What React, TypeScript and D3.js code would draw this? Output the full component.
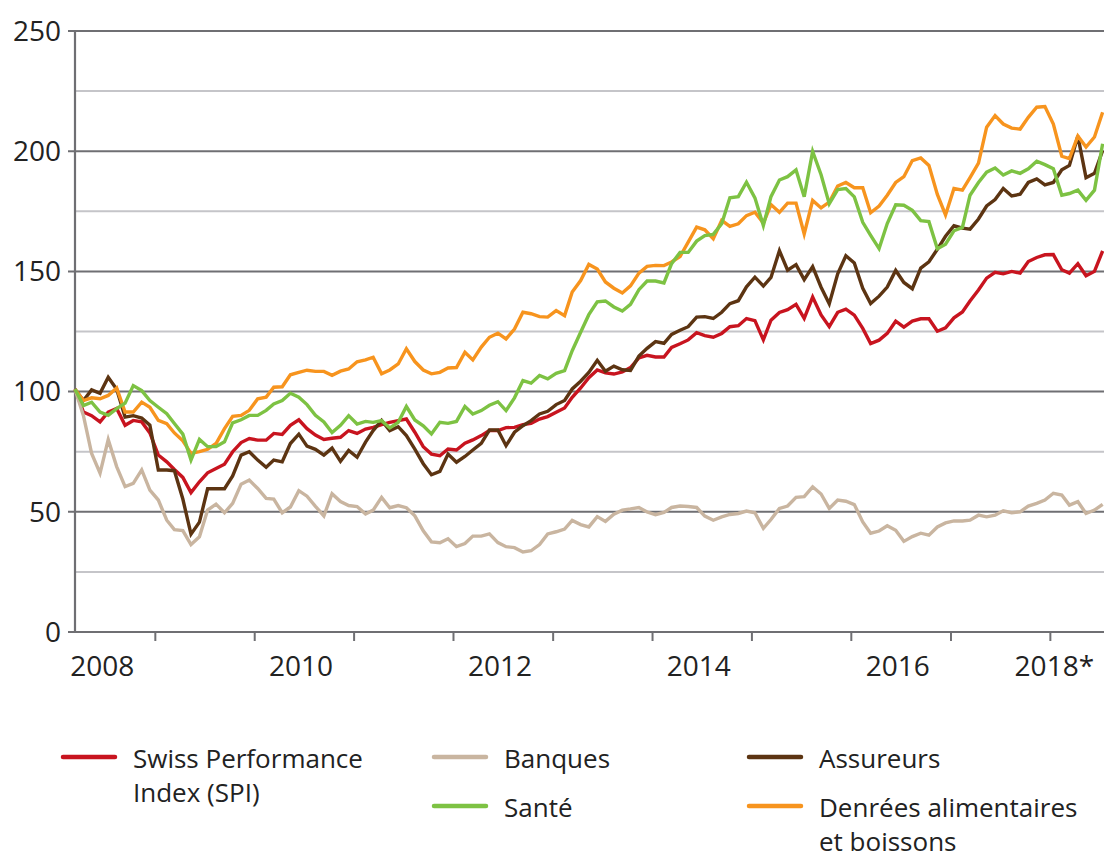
import React from "react";
import * as d3 from "d3";

const spi = [101,91.5,90,87.4,91.5,93,86,88,87.4,82.8,73.6,70.8,67.6,64.3,58,62.5,66.2,68,69.8,75,78.8,80.5,79.8,79.8,82.6,82.2,86,88.3,84.6,81.9,80.1,80.6,81,83.8,82.6,84.4,85.1,86.3,87.2,87.9,88.6,83.1,77.1,74,73.3,76.1,75.7,78.5,79.9,81.7,83.8,83.8,85,85.1,86.3,86.8,88.6,89.6,91.4,93.2,97.6,101.5,105.8,109,107.8,107.3,108.2,110,114,115.1,114.4,114.4,118.4,119.9,121.5,124.5,123.3,122.6,124.2,127,127.4,130.4,129.5,121.5,129.7,132.9,134.1,136.3,130.5,139.3,131.9,127,133,134.3,131.8,126.3,120,121.4,124.2,129.3,126.8,129.3,130.3,130.3,125.1,126.5,130.7,133.1,137.7,142.3,147.2,149.6,149,150,149.3,154.1,155.8,156.9,157,150.7,149.3,153.2,148.2,150,158.5];

const banques = [101,90,74.3,66.1,80,68.8,60.5,61.8,67.4,59,54.9,46.5,42.6,42.2,36.4,39.6,50.7,53.2,49.6,53.5,61.5,63.2,59.7,55.6,55.3,49.6,52,58.8,56.5,52.3,48.3,57.5,54.3,52.6,52.2,49.1,50.7,56,51.7,52.6,51.7,48.3,42.1,37.5,37.1,38.8,35.5,36.8,39.9,39.9,40.8,37.2,35.5,35.1,33.3,33.8,36.4,40.8,41.7,42.8,46.4,44.7,43.7,48,46,49,50.7,51.2,51.8,49.9,48.8,49.7,51.8,52.4,52.2,51.8,48.2,46.5,47.9,48.9,49.3,50.3,49.6,43.1,46.8,51.4,52.4,56,56.3,60.4,57.4,51.4,54.9,54.4,53,45.8,41.1,42,44.2,42.3,37.7,39.7,41.1,40.3,43.7,45.4,46.2,46.2,46.5,48.6,47.9,48.6,50.4,49.6,50,52.4,53.5,54.9,57.7,57,52.8,54.2,49.3,50.7,53.1];

const assureurs = [101,96.3,100.7,99.3,106,101,89.4,90,89,86,67.4,67.4,67.1,55.3,40.7,45.7,59.6,59.6,59.6,64.9,73.6,75,71.5,68.5,71.5,70.8,78.4,82.3,77.3,76,73.6,76.5,71,75.5,72.7,79,83.8,88,83.8,85.4,81.7,76.1,70,65.4,66.8,74,70.6,73,75.7,78.5,84,84,77.5,83.1,85.8,87.9,90.7,91.8,94.6,96.3,101.1,104.3,108,113,108.5,110.6,109.1,108.8,114.8,118,120.8,120.1,123.8,125.5,127,131,131.2,130.4,133,136.6,137.8,143.6,147.6,143.9,147.5,158.6,150.5,152.8,146.6,152,143.4,136.5,149,156.5,153.5,143,136.6,139.7,143.5,150.4,145.4,142.8,151.4,154,159.2,164.6,169,168,167.6,171.8,177.2,179.9,184.5,181.4,182.1,187,188.5,186,187,192.3,194.1,206.3,189,190.8,200.3];

const sante = [101,94.2,95.6,91.5,90.1,92.9,95.2,102.5,100.4,96.3,93.5,90.8,86.7,82.3,71.5,80.1,77.1,77.1,79.1,87,88.3,90.1,90.1,92.2,94.9,96.3,99.3,97.7,94.6,90.1,87.4,83,86,90,86.5,87.6,87.2,87.9,84.9,87.2,93.8,88.2,85.8,82.4,87.2,86.8,87.6,93.8,90.7,92.1,94.3,95.8,92.1,97.4,104.6,103.5,106.7,105.3,107.6,108.7,117,124.7,132,137.3,137.7,135.2,133.5,136.3,142.4,146,146,145.2,153.2,157.9,157.9,162.6,164.9,165.4,169.8,180.6,181.1,187.1,180.6,169.1,181.1,188,189.4,192.2,181.1,199.9,190.2,178.1,184,184.5,181,170.4,165,159.5,169.9,177.7,177.5,175.4,171.1,170.7,159.4,161.3,166.9,168.3,181.7,187,191.3,193,190.1,191.8,190.8,192.7,195.8,194.4,192.7,181.7,182.4,183.8,179.6,183.8,203.1];

const denrees = [101,96.3,97.4,97,98.4,101.5,91.5,91.5,95.6,93.5,88,86.7,82.8,79.5,74.3,75,76,78.4,84.6,89.7,90.1,92.2,97,97.7,101.8,102,107,108,108.9,108.4,108.4,106.8,108.5,109.4,112.4,113.2,114.3,107.4,109,111.5,117.8,112.5,109,107.4,108,109.8,110,116.4,113.2,118.5,122.6,124.3,121.9,126,133,132.4,131.2,131,133.7,131.6,141.4,146.2,152.9,151,145.6,143,141,144,149.3,152.1,152.5,152.4,153.9,156.2,162.2,168.4,167.3,163.6,171.2,168.7,169.8,173.2,174.6,170.1,177.8,174.6,178.4,178.4,165.6,179.5,176.4,178.8,185.5,187,184.8,184.8,174.4,177.2,181.7,187,189.4,196.1,197.2,194.1,182,173.5,184.5,183.8,189,195,210,214.8,211.3,209.6,209.2,214.1,218.3,218.6,211.3,197.9,196.9,206.3,201.7,205.9,216.2];

const yTicks = [0, 50, 100, 150, 200, 250];
const gridValues = [25, 50, 75, 100, 125, 150, 175, 200, 225, 250];
const yearTicks = [2009, 2010, 2011, 2012, 2013, 2014, 2015, 2016, 2017, 2018];
const yearLabels = ["2008", "2010", "2012", "2014", "2016"];
const lastLabel = "2018*";

const months = spi.map((_, i) => new Date(2008, 2 + i, 12));

const series = [
  { key: "spi", values: spi, color: "#c8141f" },
  { key: "banques", values: banques, color: "#c9b5a0" },
  { key: "assureurs", values: assureurs, color: "#5c3412" },
  { key: "denrees", values: denrees, color: "#f7941e" },
  { key: "sante", values: sante, color: "#7dc243" },
];

const legend = [
  { lines: ["Swiss Performance", "Index (SPI)"], color: "#c8141f", col: 0, row: 0 },
  { lines: ["Banques"], color: "#c9b5a0", col: 1, row: 0 },
  { lines: ["Assureurs"], color: "#5c3412", col: 2, row: 0 },
  { lines: ["Santé"], color: "#7dc243", col: 1, row: 1 },
  { lines: ["Denrées alimentaires", "et boissons"], color: "#f7941e", col: 2, row: 1 },
];

export default function App() {
  const W = 1104, H = 859;
  const left = 75, right = 1104, top = 31, bottom = 632;
  const x = d3.scaleTime().domain([new Date(2008, 2, 12), new Date(2018, 6, 17)]).range([left, right]);
  const y = d3.scaleLinear().domain([0, 250]).range([bottom, top]);
  const line = d3.line<number>().x((_, i) => x(months[i])).y((d) => y(d));
  const font = "'Open Sans', sans-serif";
  const axisColor = "#6f6f73";
  const lightGrid = "#c5c5c9";

  const legendCols = [63, 434, 749];
  const legendRows = [757, 806];

  return (
    <svg width={W} height={H} style={{ position: "absolute", left: 0, top: 0, background: "#fff" }} fontFamily={font}>
      {gridValues.map((v) => {
        const dark = v % 50 === 0;
        return (
          <line key={v} x1={dark ? 68 : left} x2={right} y1={y(v)} y2={y(v)}
            stroke={dark ? axisColor : lightGrid} strokeWidth={2} />
        );
      })}
      <line x1={68} x2={right} y1={y(0)} y2={y(0)} stroke={axisColor} strokeWidth={2.2} />
      <line x1={left} x2={left} y1={y(250)} y2={y(0)} stroke={axisColor} strokeWidth={2.2} />
      {yearTicks.map((yr) => (
        <line key={yr} x1={x(new Date(yr, 0, 1))} x2={x(new Date(yr, 0, 1))} y1={y(0)} y2={y(0) + 9}
          stroke={axisColor} strokeWidth={2} />
      ))}
      {yTicks.map((v) => (
        <text key={v} x={61} y={y(v)} dy="0.35em" textAnchor="end" fontSize={28} fill="#222">{v}</text>
      ))}
      {yearLabels.map((l) => (
        <text key={l} x={x(new Date(+l, 6, 1)) - 3} y={676} textAnchor="middle" fontSize={28} fill="#222">{l}</text>
      ))}
      <text x={x(new Date(2018, 0, 1)) + 4} y={676} textAnchor="middle" fontSize={28} fill="#222">{lastLabel}</text>
      {series.map((s) => (
        <path key={s.key} d={line(s.values) || ""} fill="none" stroke={s.color} strokeWidth={3.4} />
      ))}
      {legend.map((g) => {
        const lx = legendCols[g.col];
        const ly = legendRows[g.row];
        return (
          <g key={g.lines[0]}>
            <line x1={lx} x2={lx + 52} y1={ly} y2={ly} stroke={g.color} strokeWidth={4.5} strokeLinecap="round" />
            {g.lines.map((t, k) => (
              <text key={t} x={lx + 70} y={ly + 11 + k * 34} fontSize={26} fill="#222">{t}</text>
            ))}
          </g>
        );
      })}
    </svg>
  );
}
